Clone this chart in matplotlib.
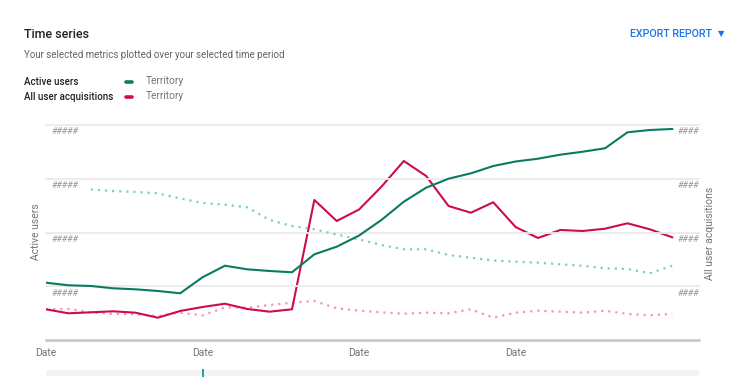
import matplotlib
matplotlib.use("Agg")
import matplotlib.pyplot as plt
import matplotlib.transforms as mtransforms
import numpy as np

plt.rcParams['font.family'] = ['Roboto', 'DejaVu Sans']

# daily points, one "Date" label every 7 days
days = list(range(29))
date_ticks = [0, 7, 14, 21]
date_labels = ['Date', 'Date', 'Date', 'Date']

active_users = [10660, 10180, 10050, 9620, 9430, 9120, 8690, 11670, 13820, 13150,
                12840, 12600, 15940, 17360, 19440, 22330, 25730, 28340, 30010, 31010,
                32370, 33210, 33730, 34480, 35030, 35670, 38640, 39070, 39260]
active_users_prev = [np.nan, np.nan, 28000, 27720, 27540, 27290, 26330, 25490, 25170, 24690,
                     22330, 21210, 20600, 19630, 18700, 17680, 16880, 16880, 15810, 15310,
                     14790, 14570, 14380, 14080, 13820, 13340, 13210, 12410, 13820]
acquisitions = [571, 497, 515, 534, 508, 415, 540, 614, 675, 577,
                527, 571, 2605, 2214, 2428, 2852, 3330, 3051, 2493, 2368,
                2562, 2102, 1898, 2047, 2028, 2071, 2171, 2060, 1911]
acquisitions_prev = [571, 577, 512, 484, 478, 447, 508, 456, 608, 601,
                     651, 694, 726, 590, 545, 515, 489, 508, 497, 571,
                     415, 508, 545, 527, 508, 545, 484, 460, 484]

left_ticks = [10000, 20000, 30000, 40000]
right_ticks = [1000, 2000, 3000, 4000]

GREEN = '#0a7a62'
RED = '#cc0c4e'
TEAL_LIGHT = '#7fcdc6'
PINK_LIGHT = '#f495b5'
GRAY_TXT = '#757575'

W, H = 750, 388
fig = plt.figure(figsize=(W / 100, H / 100), dpi=100)

def fx(px):
    return px / W

def fy(py):
    return 1 - py / H

ax = fig.add_axes([fx(46), fy(340), fx(699) - fx(46), fy(125) - fy(340)])
ax2 = ax.twinx()

for a in (ax, ax2):
    for s in a.spines.values():
        s.set_visible(False)
    a.set_yticks([])
    a.tick_params(length=0)

ax.set_xlim(0, 29.2)
ax.set_ylim(0, 40000)
ax2.set_ylim(0, 4000)

for t in left_ticks:
    ax.axhline(t, color='#ebebeb', lw=1.3, clip_on=False, zorder=0)
ax.axhline(0, color='#c4c4c4', lw=1.8, clip_on=False, zorder=1)

ax.plot(days, active_users_prev, color=TEAL_LIGHT, lw=1.6, linestyle=(0, (1, 2.2)), zorder=2)
ax2.plot(days, acquisitions_prev, color=PINK_LIGHT, lw=1.6, linestyle=(0, (1, 2.2)), zorder=2)
ax.plot(days, active_users, color=GREEN, lw=1.5, zorder=3)
ax2.plot(days, acquisitions, color=RED, lw=1.5, zorder=3)
ax.set_zorder(ax2.get_zorder() + 1)
ax.patch.set_visible(False)

# hashed tick labels inside the plot
left_tr = mtransforms.blended_transform_factory(ax.transAxes, ax.transData)
off = mtransforms.ScaledTranslation(0, -7 / 100, fig.dpi_scale_trans)
for t in left_ticks:
    ax.text(6 / 653, t, '#####', transform=left_tr + off, ha='left', va='center',
            fontsize=6.5, color='#9e9e9e', style='italic')
right_tr = mtransforms.blended_transform_factory(ax2.transAxes, ax2.transData)
for t in right_ticks:
    ax2.text(1.0, t, '####', transform=right_tr + off, ha='right', va='center',
             fontsize=6.5, color='#9e9e9e', style='italic')

ax.set_xticks(date_ticks)
ax.set_xticklabels(date_labels, fontsize=7.5, color=GRAY_TXT)
ax.tick_params(axis='x', pad=6)

fig.text(fx(36), fy(232), 'Active users', rotation=90, ha='center', va='center',
         fontsize=7.5, color=GRAY_TXT)
fig.text(fx(710), fy(233), 'All user acquisitions', rotation=90, ha='center', va='center',
         fontsize=7.5, color=GRAY_TXT)

# header
fig.text(fx(24), fy(34), 'Time series', ha='left', va='center', fontsize=9, color='#202124',
         fontweight='medium')
fig.text(fx(24), fy(55), 'Your selected metrics plotted over your selected time period',
         ha='left', va='center', fontsize=7, color='#5f6368')
fig.text(fx(712), fy(34), 'EXPORT REPORT', ha='right', va='center', fontsize=7.7,
         color='#1a73e8', fontweight='medium')
fig.text(fx(721), fy(34), '▼', ha='center', va='center', fontsize=6, color='#1a73e8',
         family=['DejaVu Sans'])

# legend
fig.text(fx(24), fy(82), 'Active users', ha='left', va='center', fontsize=7, color='#202124',
         fontweight='medium')
fig.text(fx(24), fy(97), 'All user acquisitions', ha='left', va='center', fontsize=7,
         color='#202124', fontweight='medium')
fig.add_artist(plt.Line2D([fx(126), fx(132)], [fy(82), fy(82)], color=GREEN, lw=2.6,
                          solid_capstyle='round'))
fig.add_artist(plt.Line2D([fx(126), fx(132)], [fy(97), fy(97)], color=RED, lw=2.6,
                          solid_capstyle='round'))
fig.text(fx(146), fy(81), 'Territory', ha='left', va='center', fontsize=7.3, color=GRAY_TXT)
fig.text(fx(146), fy(96), 'Territory', ha='left', va='center', fontsize=7.3, color=GRAY_TXT)

# scrollbar under the chart
fig.add_artist(plt.Rectangle((fx(46), fy(376)), fx(699) - fx(46), fy(370) - fy(376),
                             color='#f3f3f3', lw=0))
fig.add_artist(plt.Rectangle((fx(202), fy(377)), fx(2), fy(369) - fy(377),
                             color='#1ba3b0', lw=0))

fig.savefig('out.png', dpi=100)
